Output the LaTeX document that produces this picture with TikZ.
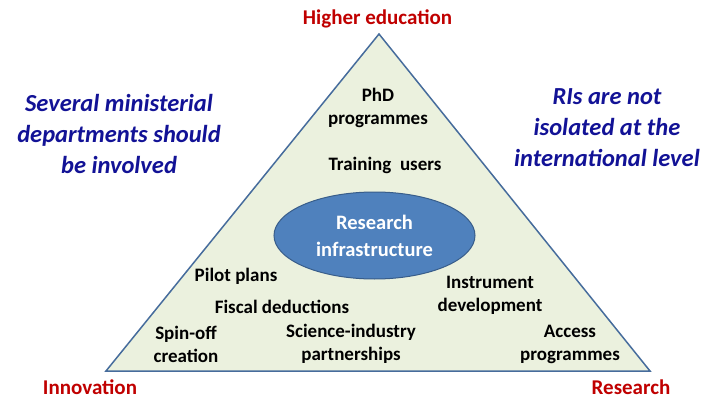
\documentclass[tikz,border=0pt]{standalone}
\usepackage{fontspec}
\setmainfont{Carlito}
\usetikzlibrary{positioning,shapes.geometric}

\definecolor{trifill}{RGB}{235,241,222}
\definecolor{triedge}{RGB}{70,108,156}
\definecolor{rifill}{RGB}{79,129,189}
\definecolor{riedge}{RGB}{56,93,138}
\definecolor{cornerred}{RGB}{192,0,0}
\definecolor{notenavy}{RGB}{18,18,150}

\def\itemlist{{(378,108)/phd/{PhD\\programmes}}, {(385,165)/training/{Training~ users}}, {(236,276)/pilot/{Pilot plans}}, {(282,307)/fiscal/{Fiscal deductions}}, {(186,344)/spinoff/{Spin-off\\creation}}, {(351,344)/science/{Science-industry\\partnerships}}, {(490,295)/instrument/{Instrument\\development}}, {(570,344)/access/{Access\\programmes}}}
\tikzstyle{tri}=[draw=triedge, fill=trifill, line width=1.5pt, line join=miter]
\tikzstyle{infra}=[ellipse, draw=riedge, fill=rifill, line width=1pt, minimum width=201pt, minimum height=87pt, inner sep=0pt, align=center, text=white, font=\bfseries\fontsize{20.5}{27}\selectfont]
\tikzstyle{item}=[align=center, inner sep=0pt, font=\bfseries\fontsize{19}{23}\selectfont]
\tikzstyle{corner}=[inner sep=0pt, text=cornerred, font=\bfseries\fontsize{21}{25}\selectfont]
\tikzstyle{note}=[align=center, inner sep=0pt, text=notenavy, font=\bfseries\itshape\fontsize{24.5}{31}\selectfont]

\begin{document}
\begin{tikzpicture}[x=1pt, y=-1pt]
  \useasboundingbox (0,0) rectangle (707,401);

  % triangle corners
  \coordinate (top) at (379,34);
  \coordinate (left) at (106,371);
  \coordinate (right) at (650,371);
  \path[tri] (left) -- (right) -- (top) -- cycle;

  \node[infra] (ri) at (374.5,235.5) {Research\\infrastructure};

  \foreach \pos/\name/\txt in \itemlist {
    \node[item] (\name) at \pos {\txt};
  }

  \node[corner] (higher) at (377.5,19) {Higher education};
  \node[corner] (innovation) at (90,387) {Innovation};
  \node[corner] (research) at (631,387) {Research};

  \node[note] (ministries) at (119,134) {Several ministerial\\departments should\\be involved};
  \node[note] (international) at (607,128) {RIs are not\\isolated at the\\international level};
\end{tikzpicture}
\end{document}
